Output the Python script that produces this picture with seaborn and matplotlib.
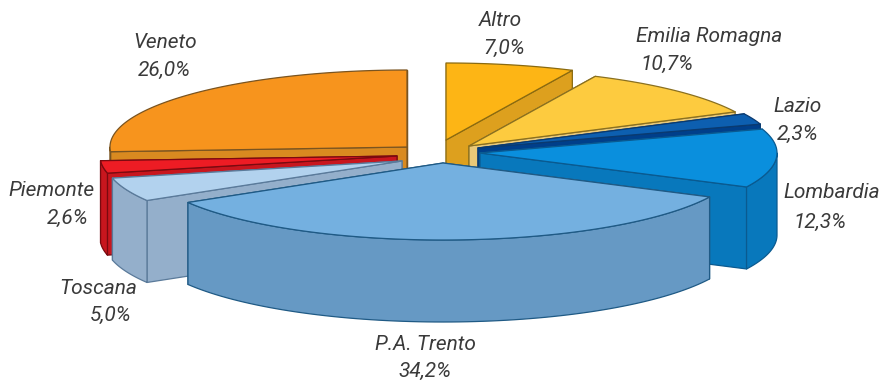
import numpy as np
import matplotlib
matplotlib.use("Agg")
import matplotlib.pyplot as plt
import seaborn as sns

# data, clockwise from 12 o'clock
regions = ["Altro", "Emilia Romagna", "Lazio", "Lombardia", "P.A. Trento", "Toscana", "Piemonte", "Veneto"]
shares = [7.0, 10.7, 2.3, 12.3, 34.2, 5.0, 2.6, 26.0]
share_labels = ["7,0%", "10,7%", "2,3%", "12,3%", "34,2%", "5,0%", "2,6%", "26,0%"]

# styles
top_colors = ["#FDB515", "#FDCB3F", "#0D5FB0", "#0A8FDD", "#74B0E0", "#B2D2EE", "#ED1C24", "#F7941D"]
wall_colors = ["#DDA01E", "#E9C878", "#003F8A", "#0878BC", "#6699C4", "#94AFCB", "#C8161E", "#D98A20"]
edge_colors = ["#8A6A10", "#8A7020", "#0A3A70", "#0A5A90", "#1F5A85", "#5A7A9A", "#7A0A10", "#7A5420"]
centers = [(446, 140), (469, 146), (478, 148), (480, 153), (443, 163), (402, 161), (397, 156), (407, 147)]
draw_order = [7, 0, 1, 2, 3, 6, 5, 4]
label_pos = [((500, 21), (504, 48)), ((709, 37), (667, 64)), ((798, 107), (798, 134)),
             ((832, 193), (820, 222)), ((425, 344), (425, 371)), ((98, 288), (111, 315)),
             ((51, 190), (68, 218)), ((165, 42), (164, 70))]
RX, RY, DEPTH = 297, 77, 82

sns.set_theme(style="white")
plt.rcParams["font.family"] = ["Roboto", "DejaVu Sans"]
fig = plt.figure(figsize=(8.83, 3.81), dpi=100, facecolor="white")
ax = fig.add_axes([0, 0, 1, 1])
ax.set_xlim(0, 883)
ax.set_ylim(381, 0)
ax.set_axis_off()
sns.despine(ax=ax, left=True, bottom=True)

fractions = np.array(shares) / np.sum(shares)
edges = np.concatenate([[0], np.cumsum(fractions)]) * 2 * np.pi


def rim(cx, cy, theta):
    return cx + RX * np.sin(theta), cy - RY * np.cos(theta)


for i in draw_order:
    cx, cy = centers[i]
    a, b = edges[i], edges[i + 1]
    kw = dict(edgecolor=edge_colors[i], linewidth=0.9, joinstyle="round")
    # radial cut faces, hidden one first
    ends = sorted([a, b], key=lambda t: rim(cx, cy, t)[1])
    for t in ends:
        ex, ey = rim(cx, cy, t)
        ax.fill([cx, ex, ex, cx], [cy, ey, ey + DEPTH, cy + DEPTH], facecolor=wall_colors[i], **kw)
    # outer wall: only the front half
    lo, hi = max(a, np.pi / 2), min(b, 3 * np.pi / 2)
    if hi > lo:
        th = np.linspace(lo, hi, 80)
        x, y = rim(cx, cy, th)
        ax.fill(np.r_[x, x[::-1]], np.r_[y, y[::-1] + DEPTH], facecolor=wall_colors[i], **kw)
    # top face
    th = np.linspace(a, b, 120)
    x, y = rim(cx, cy, th)
    ax.fill(np.r_[cx, x], np.r_[cy, y], facecolor=top_colors[i], **kw)

for name, pct, (p1, p2) in zip(regions, share_labels, label_pos):
    for s, p in ((name, p1), (pct, p2)):
        ax.text(p[0], p[1], s, ha="center", va="center", style="italic", fontsize=15, color="#3a3a3a")

fig.savefig("out.png", dpi=100, facecolor="white")
